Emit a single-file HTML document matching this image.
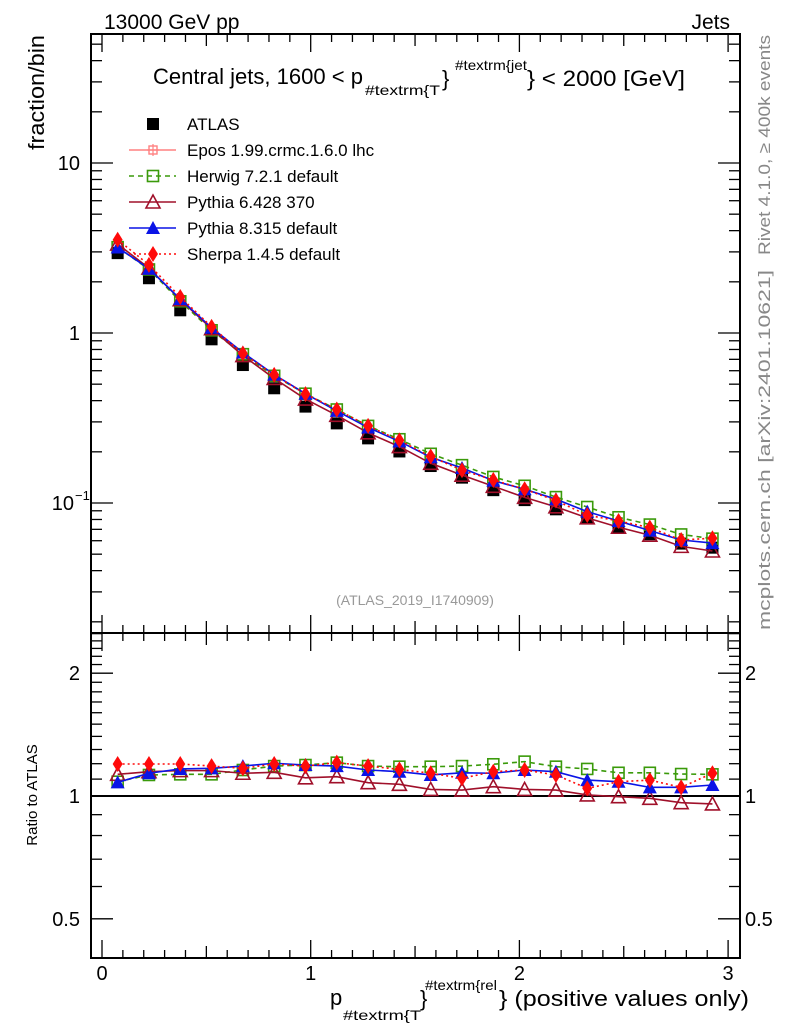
<!DOCTYPE html>
<html><head><meta charset="utf-8"><style>
html,body{margin:0;padding:0;background:#fff;}
svg{display:block;font-family:"Liberation Sans",sans-serif;}
</style></head><body>
<svg id="chart" width="786" height="1024" viewBox="0 0 786 1024" xmlns="http://www.w3.org/2000/svg">
<rect x="0" y="0" width="786" height="1024" fill="#fff"/>
<text x="104" y="29" font-size="21">13000 GeV pp</text>
<text x="730" y="29" font-size="21" text-anchor="end">Jets</text>
<text transform="translate(44,150) rotate(-90)" font-size="22" textLength="115" lengthAdjust="spacingAndGlyphs">fraction/bin</text>
<text transform="translate(37,795) rotate(-90)" font-size="15" text-anchor="middle">Ratio to ATLAS</text>
<text transform="translate(770,255) rotate(-90)" font-size="17" fill="#888" textLength="220" lengthAdjust="spacingAndGlyphs">Rivet 4.1.0, ≥ 400k events</text>
<text transform="translate(770,630) rotate(-90)" font-size="17" fill="#888" textLength="360" lengthAdjust="spacingAndGlyphs">mcplots.cern.ch [arXiv:2401.10621]</text>
<text x="415" y="605" font-size="14" fill="#999" text-anchor="middle">(ATLAS_2019_I1740909)</text>
<g font-size="22">
<text x="153" y="84" textLength="210" lengthAdjust="spacingAndGlyphs">Central jets, 1600 &lt; p</text>
<text x="365" y="95" font-size="14" textLength="75" lengthAdjust="spacingAndGlyphs">#textrm{T</text>
<text x="442" y="86">}</text>
<text x="455" y="70" font-size="14" textLength="72" lengthAdjust="spacingAndGlyphs">#textrm{jet</text>
<text x="527" y="86" textLength="158" lengthAdjust="spacingAndGlyphs">} &lt; 2000 [GeV]</text>
</g>
<g font-size="22">
<text x="330" y="1005">p</text>
<text x="343" y="1020" font-size="14" textLength="78" lengthAdjust="spacingAndGlyphs">#textrm{T</text>
<text x="420" y="1006">}</text>
<text x="425" y="990" font-size="14" textLength="72" lengthAdjust="spacingAndGlyphs">#textrm{rel</text>
<text x="499" y="1006" textLength="250" lengthAdjust="spacingAndGlyphs">} (positive values only)</text>
</g>
<g id="axes"></g>
<g id="marks"></g>
<g id="legend"></g>
</svg>
<script>
const binCenters=[0.075,0.225,0.375,0.525,0.675,0.825,0.975,1.125,1.275,1.425,1.575,1.725,1.875,2.025,2.175,2.325,2.475,2.625,2.775,2.925];
const atlasValues=[2.95,2.1,1.36,0.918,0.648,0.473,0.369,0.294,0.240,0.201,0.165,0.141,0.119,0.104,0.0918,0.0813,0.0723,0.0655,0.0577,0.0546];
const herwigRatio=[1.084,1.126,1.13,1.13,1.158,1.184,1.191,1.207,1.184,1.18,1.18,1.184,1.196,1.214,1.18,1.165,1.14,1.14,1.132,1.13];
const pythia6Ratio=[1.13,1.147,1.154,1.154,1.137,1.143,1.108,1.115,1.078,1.068,1.038,1.034,1.054,1.038,1.034,1.006,0.996,0.987,0.963,0.956];
const pythia8Ratio=[1.08,1.137,1.165,1.169,1.184,1.203,1.191,1.184,1.158,1.147,1.126,1.14,1.137,1.158,1.147,1.094,1.084,1.05,1.05,1.064];
const sherpaRatio=[1.198,1.198,1.198,1.184,1.169,1.198,1.184,1.207,1.184,1.162,1.137,1.105,1.147,1.158,1.126,1.044,1.084,1.094,1.05,1.137];
const xTickLabels=["0","1","2","3"];
const mainTickLabels=[{v:10,t:"10"},{v:1,t:"1"},{v:0.1,t:"10",sup:"−1"}];
const ratioTickLabels=[{v:2,t:"2"},{v:1,t:"1"},{v:0.5,t:"0.5"}];

const NS="http://www.w3.org/2000/svg";
const L=91,R=740,T=34,MB=633,RB=958;
const xS=v=>102+v*208.7;
const yM=v=>333-170*Math.log10(v);
const yR=v=>796-408*Math.log10(v);
function mk(tag,attrs,parent){const e=document.createElementNS(NS,tag);for(const k in attrs)e.setAttribute(k,attrs[k]);parent.appendChild(e);return e;}
const axes=document.getElementById('axes'),marks=document.getElementById('marks'),legend=document.getElementById('legend');

const f1=mk('rect',{x:L,y:T,width:R-L,height:MB-T,fill:'none',stroke:'#000','stroke-width':2},axes);


const f2=mk('rect',{x:L,y:MB,width:R-L,height:RB-MB,fill:'none',stroke:'#000','stroke-width':2},axes);



for(let i=0;i<=30;i++){const v=i/10,x=xS(v);if(x<L||x>R)continue;
 const len=(i%10===0)?18:(i%5===0?12:8);
 [[T,T+len],[MB,MB-len],[MB,MB+len],[RB,RB-len]].forEach(([a,b])=>mk('line',{x1:x,x2:x,y1:a,y2:b,stroke:'#000','stroke-width':1.3},axes));}
xTickLabels.forEach((t,i)=>{const e=mk('text',{x:xS(i),y:980,'font-size':20,'text-anchor':'middle'},axes);e.textContent=t;
 
 });

for(let d=-2;d<=1;d++)for(let m=1;m<=9;m++){const v=m*Math.pow(10,d),y=yM(v);if(y<T||y>MB)continue;
 const len=m===1?22:11;
 mk('line',{x1:L,x2:L+len,y1:y,y2:y,stroke:'#000','stroke-width':1.3},axes);
 mk('line',{x1:R,x2:R-len,y1:y,y2:y,stroke:'#000','stroke-width':1.3},axes);}
mainTickLabels.forEach(o=>{const e=mk('text',{x:o.sup?74:80,y:yM(o.v)+7,'font-size':20,'text-anchor':'end'},axes);e.textContent=o.t;
 
 
 if(o.sup){const s=mk('text',{x:75,y:yM(o.v)-3,'font-size':13},axes);s.textContent=o.sup;}});

for(let i=4;i<=25;i++){const v=i/10,y=yR(v);if(y<MB||y>RB)continue;
 const len=(v===1||v===2||v===0.5)?22:11;
 mk('line',{x1:L,x2:L+len,y1:y,y2:y,stroke:'#000','stroke-width':1.3},axes);
 mk('line',{x1:R,x2:R-len,y1:y,y2:y,stroke:'#000','stroke-width':1.3},axes);}
ratioTickLabels.forEach(o=>{
 const e=mk('text',{x:80,y:yR(o.v)+7,'font-size':20,'text-anchor':'end'},axes);e.textContent=o.t;
 
 
 const e2=mk('text',{x:745,y:yR(o.v)+7,'font-size':20},axes);e2.textContent=o.t;
 
 });
const one=mk('line',{x1:L,x2:R,y1:yR(1),y2:yR(1),stroke:'#000','stroke-width':2},axes);



function marker(type,cx,cy,col,parent){
 if(type==='sq')return mk('rect',{x:cx-6,y:cy-6,width:12,height:12,fill:'#000'},parent);
 if(type==='osq')return mk('rect',{x:cx-5.5,y:cy-5.5,width:11,height:11,fill:'none',stroke:col,'stroke-width':1.6},parent);
 if(type==='otri')return mk('polygon',{points:`${cx},${cy-7} ${cx-7},${cy+6} ${cx+7},${cy+6}`,fill:'none',stroke:col,'stroke-width':1.6},parent);
 if(type==='tri')return mk('polygon',{points:`${cx},${cy-7} ${cx-7},${cy+6} ${cx+7},${cy+6}`,fill:col},parent);
 if(type==='dia')return mk('polygon',{points:`${cx},${cy-8} ${cx-5},${cy} ${cx},${cy+8} ${cx+5},${cy}`,fill:col},parent);
 if(type==='cross'){const g=mk('g',{},parent);mk('rect',{x:cx-4,y:cy-4,width:8,height:8,fill:'none',stroke:col,'stroke-width':1.4},g);mk('line',{x1:cx-6,x2:cx+6,y1:cy,y2:cy,stroke:col,'stroke-width':1.2},g);mk('line',{x1:cx,x2:cx,y1:cy-6,y2:cy+6,stroke:col,'stroke-width':1.2},g);return g;}
}
const series=[
 {name:'herwig',ratio:herwigRatio,col:'#3a9a0a',mk:'osq',dash:'5,4'},
 {name:'pythia6',ratio:pythia6Ratio,col:'#a0102a',mk:'otri',dash:''},
 {name:'pythia8',ratio:pythia8Ratio,col:'#0a14e6',mk:'tri',dash:''},
 {name:'sherpa',ratio:sherpaRatio,col:'#ff0a0a',mk:'dia',dash:'2,3'}];
const ga=mk('g',{},marks);


binCenters.forEach((x,i)=>{const m=marker('sq',xS(x),yM(atlasValues[i]),'#000',ga);
 
 });
series.forEach(s=>{
 const g=mk('g',{},marks);
 
 
 const pm=binCenters.map((x,i)=>xS(x)+','+yM(atlasValues[i]*s.ratio[i])).join(' ');
 const pr=binCenters.map((x,i)=>xS(x)+','+yR(s.ratio[i])).join(' ');
 const a={fill:'none',stroke:s.col,'stroke-width':1.6};if(s.dash)a['stroke-dasharray']=s.dash;
 mk('polyline',Object.assign({points:pm},a),g);mk('polyline',Object.assign({points:pr},a),g);
 binCenters.forEach((x,i)=>{
  const m1=marker(s.mk,xS(x),yM(atlasValues[i]*s.ratio[i]),s.col,g);
  
  
  const m2=marker(s.mk,xS(x),yR(s.ratio[i]),s.col,g);
  
  });
});
const legItems=[
 {t:'ATLAS',mk:'sq',col:'#000',line:false},
 {t:'Epos 1.99.crmc.1.6.0 lhc',mk:'cross',col:'#ff8080',line:true,dash:''},
 {t:'Herwig 7.2.1 default',mk:'osq',col:'#3a9a0a',line:true,dash:'5,4'},
 {t:'Pythia 6.428 370',mk:'otri',col:'#a0102a',line:true,dash:''},
 {t:'Pythia 8.315 default',mk:'tri',col:'#0a14e6',line:true,dash:''},
 {t:'Sherpa 1.4.5 default',mk:'dia',col:'#ff0a0a',line:true,dash:'2,3'}];
legItems.forEach((it,i)=>{const y=124+26*i;
 const g=mk('g',{},legend);
 
 
 if(it.line){const a={x1:129,x2:176,y1:y,y2:y,stroke:it.col,'stroke-width':1.6};if(it.dash)a['stroke-dasharray']=it.dash;mk('line',a,g);}
 marker(it.mk,153,y,it.col,g);
 const t=mk('text',{x:187,y:y+6,'font-size':17},g);t.textContent=it.t;});
</script>
</body></html>
